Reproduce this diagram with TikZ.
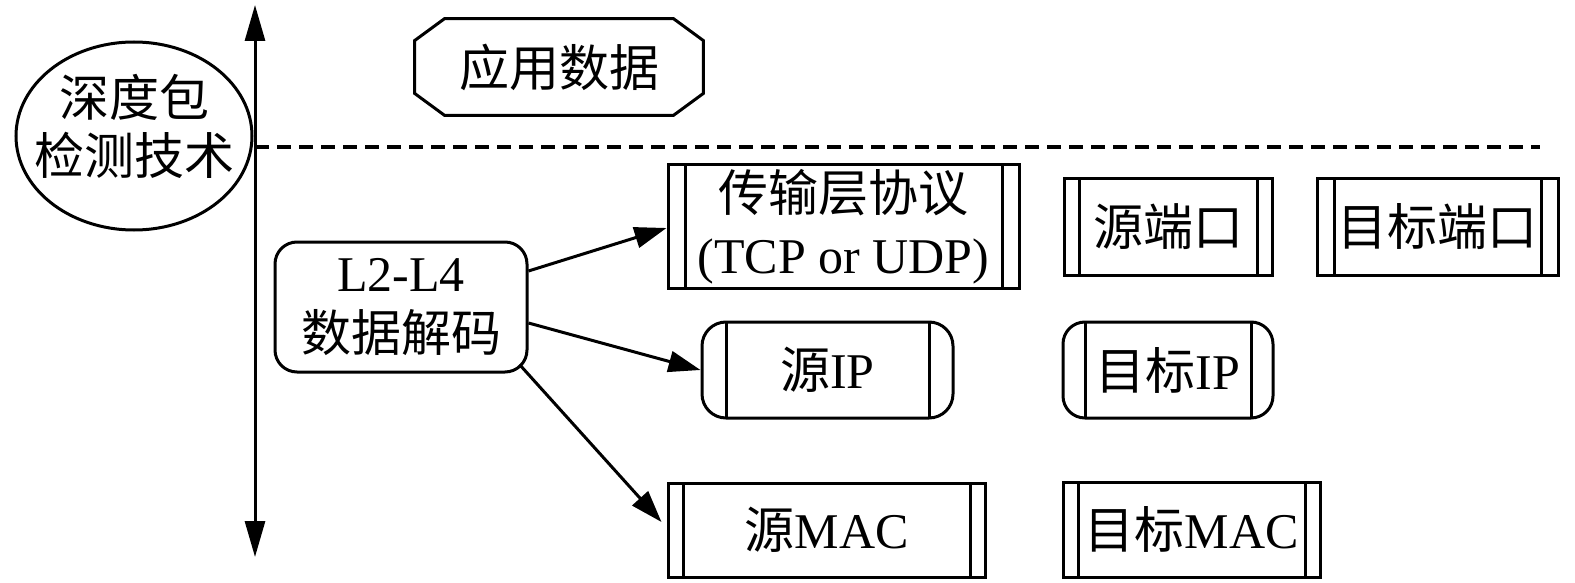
\documentclass[tikz,border=0pt]{standalone}
\usepackage{fontspec}
\setmainfont{Liberation Serif}
\newfontfamily\cjk{Noto Sans CJK SC}
\usetikzlibrary{arrows.meta,shapes.geometric}
\tikzset{
  base/.style={draw, line width=1.5pt, inner sep=0pt, align=center,
    font=\fontsize{25}{30}\selectfont},
  sidebox/.style={base, rectangle,
    path picture={\draw[line width=1.5pt]
      ([xshift=#1]path picture bounding box.north west) -- ([xshift=#1]path picture bounding box.south west)
      ([xshift=-#1]path picture bounding box.north east) -- ([xshift=-#1]path picture bounding box.south east);}},
  conn/.style={line width=1.5pt, -{Triangle[length=16pt,width=10.5pt]}},
}
\begin{document}
\begin{tikzpicture}[x=0.5pt,y=-0.5pt]
\useasboundingbox (0,0) rectangle (1575,583);
% axis
\coordinate (vt) at (255,5);
\coordinate (vb) at (255,557);
\draw[line width=1.5pt, {Triangle[length=18pt,width=10pt]}-{Triangle[length=18pt,width=10pt]}] (vt) -- (vb);
\coordinate (dl) at (255,147);
\coordinate (dr) at (1540,147);
\draw[line width=1.75pt, dash pattern=on 7pt off 4pt] (dl) -- (dr);
% ellipse
\node[base, ellipse, minimum width=118pt, minimum height=94pt, fill=white] (dpi) at (134,136)
  {\raisebox{-4.5pt}[0pt][0pt]{\makebox[0pt]{\fontsize{25}{27.5}\selectfont\begin{tabular}{@{}c@{}}\cjk 深度包\\\cjk 检测技术\end{tabular}}}};
% application data (octagon)
\node[inner sep=0pt, minimum width=144pt, minimum height=48pt, font=\fontsize{25}{30}\selectfont] (app) at (559,67) {\cjk 应用数据};
\draw[line width=1.5pt] ([xshift=15pt]app.north west) -- ([xshift=-15pt]app.north east)
  -- ([yshift=-11pt]app.north east) -- ([yshift=11pt]app.south east)
  -- ([xshift=-15pt]app.south east) -- ([xshift=15pt]app.south west)
  -- ([yshift=11pt]app.south west) -- ([yshift=-11pt]app.north west) -- cycle;
% L2-L4
\node[base, rounded corners=11pt, minimum width=126pt, minimum height=65pt] (l24) at (401,307)
  {L2-L4\\{\cjk 数据解码}};
% boxes
\node[sidebox=8.5pt, minimum width=175.5pt, minimum height=61.5pt, font=\fontsize{25}{31}\selectfont] (tr) at (843.5,226.5)
  {{\cjk 传输层协议}\\(TCP or UDP)};
\node[sidebox=7.5pt, minimum width=104pt, minimum height=48pt] (sport) at (1168,227) {\cjk 源端口};
\node[sidebox=8.5pt, minimum width=120.5pt, minimum height=48pt] (dport) at (1437.5,227) {\cjk 目标端口};
\node[sidebox=12pt, rounded corners=12pt, minimum width=125.5pt, minimum height=48pt] (sip) at (827.5,370) {{\cjk 源}IP};
\node[sidebox=11pt, rounded corners=11pt, minimum width=105pt, minimum height=48pt] (dip) at (1168,370) {{\cjk 目标}IP};
\node[sidebox=7.5pt, minimum width=158.5pt, minimum height=47pt] (smac) at (826.5,530) {{\cjk 源}MAC};
\node[sidebox=7.5pt, minimum width=128.5pt, minimum height=47.5pt] (dmac) at (1191.5,529.5) {{\cjk 目标}MAC};
% connectors
\draw[conn] ([yshift=18pt]l24.east) -- ([yshift=-0.75pt]tr.west);
\draw[conn] ([yshift=-8pt]l24.east) -- (sip.west);
\draw[conn] ([xshift=-4.5pt,yshift=4.5pt]l24.south east) -- ([xshift=-2.5pt,yshift=4pt]smac.west);
\end{tikzpicture}
\end{document}
